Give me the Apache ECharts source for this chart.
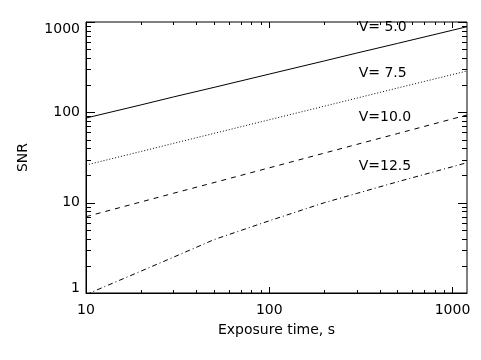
<!DOCTYPE html>
<html>
<head>
<meta charset="utf-8">
<script src="https://cdn.jsdelivr.net/npm/echarts@6/dist/echarts.min.js"></script>
<style>html,body{margin:0;padding:0;background:#fff}#c{width:481px;height:360px}</style>
</head>
<body>
<div id="c"></div>
<script>
// ---- data ----
const times    = [10, 20, 30, 50, 100, 200, 300, 500, 1000, 1200];
const snrV50   = [86.5, 121, 148, 189, 265, 371, 453, 579, 811, 887];
const snrV75   = [26.1, 36.9, 45.3, 58.5, 82.7, 117, 143.5, 185.6, 262, 287];
const snrV100  = [7.0, 10.2, 12.7, 16.7, 24.3, 35.4, 44.1, 58.1, 84.6, 93.5];
const snrV125  = [0.96, 1.75, 2.49, 3.9, 6.3, 10.0, 12.65, 17.0, 25.0, 27.7];
const seriesNames = ['V= 5.0', 'V= 7.5', 'V=10.0', 'V=12.5'];
const labelTime = 300;
const labelSNR  = [880, 273, 88.8, 25.5];
const xTicks = [10,20,30,40,50,60,70,80,90,100,200,300,400,500,600,700,800,900,1000];
const yTicks = [1,2,3,4,5,6,7,8,9,10,20,30,40,50,60,70,80,90,100,200,300,400,500,600,700,800,900,1000];
const xMin = 10, xMax = 1200, yMin = 1, yMax = 1000;

const FONT = 'DejaVu Sans';
const isDecade = v => Math.abs(Math.log10(v) - Math.round(Math.log10(v))) < 1e-6;
const pair = arr => times.map((t, i) => [t, arr[i]]);
const lineTypes = ['solid', [1, 2], [5, 5], [5, 3, 1, 3]];
const allSnr = [snrV50, snrV75, snrV100, snrV125];

const chart = echarts.init(document.getElementById('c'), null, {renderer: 'canvas'});

const lineSeries = allSnr.map((arr, i) => ({
  type: 'line', name: seriesNames[i], data: pair(arr), symbol: 'none',
  clip: true, silent: true,
  lineStyle: {color: '#000', width: 1, type: lineTypes[i]},
  z: 3
}));

const labelSeries = {
  type: 'scatter', symbolSize: 0, silent: true,
  itemStyle: {color: '#000', opacity: 1},
  data: seriesNames.map((n, i) => ({name: n, value: [labelTime, labelSNR[i]]})),
  label: {show: true, position: 'right', distance: 2, formatter: p => p.name,
          color: '#000', opacity: 1, fontFamily: FONT, fontSize: 14},
  z: 4
};

const xTickSeries = {
  type: 'custom', silent: true, z: 5,
  data: xTicks.map(v => [v, yMin]),
  renderItem: (params, api) => {
    const v = api.value(0);
    const len = isDecade(v) ? 6 : 3;
    const b = api.coord([v, yMin]), t = api.coord([v, yMax]);
    const x = Math.round(b[0]) + 0.5;
    const st = {stroke: '#000', lineWidth: 1};
    return {type: 'group', children: [
      {type: 'line', shape: {x1: x, y1: b[1], x2: x, y2: b[1] - len}, style: st},
      {type: 'line', shape: {x1: x, y1: t[1], x2: x, y2: t[1] + len}, style: st}
    ]};
  }
};

const yTickSeries = {
  type: 'custom', silent: true, z: 5,
  data: yTicks.map(v => [xMin, v]),
  renderItem: (params, api) => {
    const v = api.value(1);
    const len = isDecade(v) ? 9 : 5;
    const l = api.coord([xMin, v]), r = api.coord([xMax, v]);
    const y = Math.round(l[1]) + 0.5;
    const st = {stroke: '#000', lineWidth: 1};
    return {type: 'group', children: [
      {type: 'line', shape: {x1: l[0], y1: y, x2: l[0] + len, y2: y}, style: st},
      {type: 'line', shape: {x1: r[0], y1: y, x2: r[0] - len, y2: y}, style: st}
    ]};
  }
};

chart.setOption({
  animation: false,
  backgroundColor: '#fff',
  grid: {left: 86, right: 14, top: 22, bottom: 67, containLabel: false, outerBoundsMode: 'none',
         show: true, borderColor: '#000', borderWidth: 1, backgroundColor: 'transparent'},
  xAxis: {
    type: 'log', logBase: 10, min: xMin, max: xMax,
    name: 'Exposure time, s', nameLocation: 'middle', nameGap: 30,
    nameTextStyle: {color: '#000', fontFamily: FONT, fontSize: 14},
    axisLine: {show: true, lineStyle: {color: '#000', width: 1}},
    axisTick: {show: false}, splitLine: {show: false}, minorTick: {show: false},
    axisLabel: {color: '#000', fontFamily: FONT, fontSize: 14, margin: 10,
      showMinLabel: true, showMaxLabel: true,
      formatter: v => isDecade(v) ? String(Math.round(v)) : ''}
  },
  yAxis: {
    type: 'log', logBase: 10, min: yMin, max: yMax,
    name: 'SNR', nameLocation: 'middle', nameGap: 56, nameRotate: 90,
    nameTextStyle: {color: '#000', fontFamily: FONT, fontSize: 14},
    axisLine: {show: true, lineStyle: {color: '#000', width: 1}},
    axisTick: {show: false}, splitLine: {show: false}, minorTick: {show: false},
    axisLabel: {color: '#000', fontFamily: FONT, fontSize: 14, margin: 6,
      formatter: v => {
        if (!isDecade(v)) return '';
        const r = Math.round(v);
        if (r === yMax) return '{top|' + r + '}';
        if (r === yMin) return '{bot|' + r + '}';
        return String(r);
      },
      rich: {
        top: {padding: [14, 0, 0, 0], fontFamily: FONT, fontSize: 14, color: '#000'},
        bot: {padding: [0, 0, 10, 0], fontFamily: FONT, fontSize: 14, color: '#000'}
      }}
  },
  series: [...lineSeries, labelSeries, xTickSeries, yTickSeries]
});
</script>
</body>
</html>
